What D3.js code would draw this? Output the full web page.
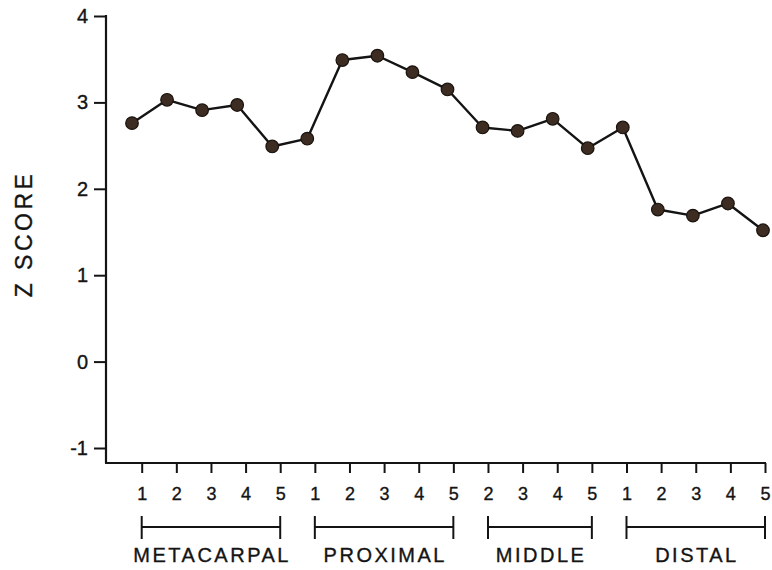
<!DOCTYPE html>
<html>
<head>
<meta charset="utf-8">
<script src="https://cdn.jsdelivr.net/npm/d3@7"></script>
<style>
  html, body { margin: 0; padding: 0; background: #fff; }
  svg { display: block; }
</style>
</head>
<body>
<div id="chart"></div>
<script>
// ---- data ----
const tickLabels = ["1","2","3","4","5","1","2","3","4","5","2","3","4","5","1","2","3","4","5"];
const zScores   = [2.76, 3.03, 2.91, 2.97, 2.49, 2.58, 3.49, 3.54, 3.35, 3.15,
                   2.71, 2.67, 2.81, 2.47, 2.71, 1.76, 1.69, 1.83, 1.52];
const groupNames = ["METACARPAL", "PROXIMAL", "MIDDLE", "DISTAL"];
const groupStart = [0, 5, 10, 14];
const groupEnd   = [4, 9, 13, 18];
const yTicks = [-1, 0, 1, 2, 3, 4];
const yTickLabels = ["-1", "0", "1", "2", "3", "4"];
const yTitle = "Z SCORE";

// ---- layout ----
const W = 772, H = 570;
const axisX = 106, axisY = 463, axisRight = 766;
const idx = d3.range(tickLabels.length);
const FONT = "Liberation Sans, Arial, sans-serif";
const ink = "#141414";

const svg = d3.select("#chart").append("svg").attr("width", W).attr("height", H);

const y = d3.scaleLinear().domain([-1, 4]).range([448, 16]);
const xTick = d3.scalePoint().domain(idx).range([141.7, 765]);
const xData = d3.scalePoint().domain(idx).range([132, 763]);

function styleText(sel, size) {
  sel.attr("font-size", size).attr("font-family", FONT).attr("fill", ink)
     .attr("stroke", ink).attr("stroke-width", 0.35);
}

// y axis
const yAxis = svg.append("g").attr("transform", `translate(${axisX},0)`)
  .call(d3.axisLeft(y).tickValues(yTicks).tickSize(12).tickPadding(6)
        .tickFormat((d, i) => yTickLabels[i]));
yAxis.select(".domain").remove();
yAxis.selectAll(".tick line").attr("stroke", ink).attr("stroke-width", 2);
styleText(yAxis.selectAll(".tick text"), 20);
svg.append("line").attr("x1", axisX).attr("x2", axisX).attr("y1", y(4) - 1).attr("y2", axisY)
  .attr("stroke", ink).attr("stroke-width", 2.2);

// x axis
const xAxis = svg.append("g").attr("transform", `translate(0,${axisY})`)
  .call(d3.axisBottom(xTick).tickSize(10).tickPadding(14).tickFormat(i => tickLabels[i]));
xAxis.select(".domain").remove();
xAxis.selectAll(".tick line").attr("stroke", ink).attr("stroke-width", 2);
styleText(xAxis.selectAll(".tick text"), 18);
svg.append("line").attr("x1", axisX - 1).attr("x2", axisRight).attr("y1", axisY).attr("y2", axisY)
  .attr("stroke", ink).attr("stroke-width", 2.2);

// group brackets
const brY = 527;
const groups = svg.append("g");
groupNames.forEach((name, g) => {
  const x0 = xTick(groupStart[g]), x1 = xTick(groupEnd[g]);
  groups.append("line").attr("x1", x0).attr("x2", x1).attr("y1", brY).attr("y2", brY)
    .attr("stroke", ink).attr("stroke-width", 1.8);
  [x0, x1].forEach(xx => groups.append("line").attr("x1", xx).attr("x2", xx)
    .attr("y1", brY - 11).attr("y2", brY + 12).attr("stroke", ink).attr("stroke-width", 2));
  const t = groups.append("text").attr("x", (x0 + x1) / 2 + 1.2).attr("y", 562)
    .attr("text-anchor", "middle").attr("letter-spacing", 2.5)
    .text(name);
  styleText(t, 20);
});

// y title
const yt = svg.append("text").attr("transform", "translate(32,234) rotate(-90)")
  .attr("text-anchor", "middle").attr("letter-spacing", 3.5)
  .text(yTitle);
styleText(yt, 23);

// line + points
const line = d3.line().x((d, i) => xData(i)).y(d => y(d));
svg.append("path").datum(zScores).attr("d", line)
  .attr("fill", "none").attr("stroke", ink).attr("stroke-width", 2.4).attr("stroke-linejoin", "round");
svg.append("g").selectAll("circle").data(zScores).join("circle")
  .attr("cx", (d, i) => xData(i)).attr("cy", d => y(d)).attr("r", 6.3)
  .attr("fill", "#3d2c22").attr("stroke", "#1a120d").attr("stroke-width", 1.2);
</script>
</body>
</html>
